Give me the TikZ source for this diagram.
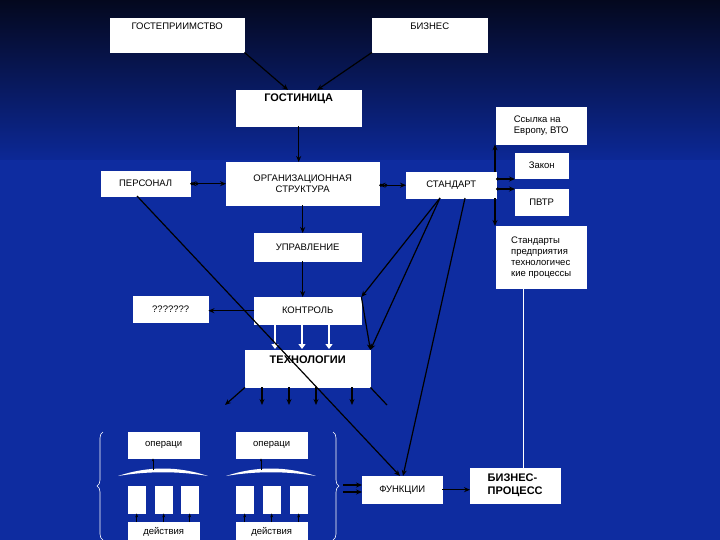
\documentclass[tikz,border=0pt]{standalone}
\usepackage{fontspec}
\setmainfont{Liberation Sans}
\usetikzlibrary{arrows.meta,decorations.pathreplacing}
\definecolor{bgtop}{RGB}{4,8,30}
\definecolor{bgmid}{RGB}{12,40,150}
\definecolor{bgbot}{RGB}{14,44,160}
\begin{document}
\begin{tikzpicture}[x=1pt,y=-1pt,
  box/.style={draw=white,fill=white,text=black,inner sep=1pt,font=\fontsize{9.5}{11}\selectfont,align=center,anchor=north west},
  bbox/.style={box,font=\fontsize{11}{13}\selectfont\bfseries},
  con/.style={black,line width=1.2pt,-{Stealth[length=6pt,width=5pt]}},
  dcon/.style={black,line width=1.2pt,{Circle[length=3pt]}-{Stealth[length=6pt,width=5pt]}},
  pl/.style={black,line width=1.2pt},
  warr/.style={white,line width=2.2pt,-{Triangle[length=5pt,width=7pt]}}]
\useasboundingbox (0,0) rectangle (720,540);
\shade[top color=bgtop,bottom color=bgmid] (0,0) rectangle (720,160);
\fill[bgbot] (0,160) rectangle (720,540);
% boxes
\node[box,minimum width=134,minimum height=34] (gost) at (110,18) {ГОСТЕПРИИМСТВО\\[8pt]};
\node[box,minimum width=115,minimum height=34] (biz) at (372,18) {БИЗНЕС\\[8pt]};
\node[bbox,minimum width=125,minimum height=36] (hotel) at (236,90) {ГОСТИНИЦА\\[8pt]};
\node[box,minimum width=90,minimum height=37,align=left] (ref) at (496,107) {Ссылка на\\Европу, ВТО};
\node[box,minimum width=89,minimum height=25] (pers) at (101,171) {ПЕРСОНАЛ};
\node[box,minimum width=153,minimum height=43] (org) at (226,162) {ОРГАНИЗАЦИОННАЯ\\СТРУКТУРА};
\node[box,minimum width=90,minimum height=26] (std) at (406,172) {СТАНДАРТ};
\node[box,minimum width=53,minimum height=25] (law) at (515,153) {Закон};
\node[box,minimum width=53,minimum height=26] (pvtr) at (515,189) {ПВТР};
\node[box,minimum width=107,minimum height=28] (upr) at (254,233) {УПРАВЛЕНИЕ};
\node[box,minimum width=90,minimum height=62,align=left] (stds) at (496,226) {Стандарты\\предприятия\\технологичес\\кие процессы};
\node[box,minimum width=75,minimum height=26] (q) at (133,296) {???????};
\node[box,minimum width=107,minimum height=27] (ctrl) at (254,297) {КОНТРОЛЬ};
\node[bbox,minimum width=125,minimum height=37] (tech) at (245,350) {ТЕХНОЛОГИИ\\[6pt]};
\node[box,minimum width=71,minimum height=26] (op1) at (128,432) {операци};
\node[box,minimum width=71,minimum height=26] (op2) at (236,432) {операци};
\node[box,minimum width=80,minimum height=27] (fun) at (362,476) {ФУНКЦИИ};
\node[bbox,minimum width=90,minimum height=35,align=left] (bp) at (470,468) {БИЗНЕС-\\ПРОЦЕСС};
\node[box,minimum width=71,minimum height=20] (act1) at (128,522) {действия};
\node[box,minimum width=71,minimum height=20] (act2) at (236,522) {действия};
\foreach \i/\x in {1/128,2/155,3/181,4/236,5/263,6/290}{
  \node[box,minimum width=17,minimum height=27] (s\i) at (\x,486) {};
}
% crescents
\foreach \a in {118,226}{
  \fill[white] (\a,476) .. controls (\a+30,466) and (\a+60,466) .. (\a+90,476)
     .. controls (\a+60,471) and (\a+30,471) .. (\a,476);
}
\coordinate (c1) at (153,470); \coordinate (c2) at (261,470);
\draw[con,line width=0.6pt,-{Stealth[length=3pt]}] (c1) -- (c1|-op1.south);
\draw[con,line width=0.6pt,-{Stealth[length=3pt]}] (c2) -- (c2|-op2.south);
\foreach \i/\a in {1/act1,2/act1,3/act1,4/act2,5/act2,6/act2}{
  \draw[con,line width=0.9pt,-{Stealth[length=4pt]}] (s\i.center|-\a.north) -- (s\i.south);
}
% braces
\draw[white,line width=0.6pt,decorate,decoration={brace,amplitude=6pt}] (103,540) -- (103,432);
\draw[white,line width=0.6pt,decorate,decoration={brace,amplitude=6pt}] (333,432) -- (333,540);
\coordinate (fa) at (343,485); \coordinate (fb) at (343,492);
\draw[con] (fa) -- (fa-|fun.west);
\draw[con] (fb) -- (fb-|fun.west);
% connectors top
\draw[con] (gost.south east) -- (288,90);
\draw[con] (biz.south west) -- (317,90);
\draw[con] (hotel.south) -- (hotel.south|-org.north);
\draw[dcon,{Circle[length=3pt]}-{Stealth[length=6pt,width=5pt]}] (pers.east) -- (pers.east-|org.west);
\draw[dcon] (org.east|-std.west) -- (std.west);
\draw[dcon] (org.east|-std.west) ++(8,0) -- (org.east|-std.west);
\draw[dcon] (pers.east) ++(8,0) -- (pers.east);
\draw[con] (org.south) -- (org.south|-upr.north);
\draw[con] (upr.south-|org.south) -- (ctrl.north-|org.south);
\draw[con] (ctrl.west) -- (q.east|-ctrl.west);
% standard right bus
\coordinate (bus) at (495,0);
\draw[con] (bus|-std.north) -- (bus|-ref.south);
\draw[con] (bus|-std.south) -- (bus|-stds.north);
\coordinate (l1) at (496,179); \coordinate (l2) at (496,189);
\draw[dcon] (l1) -- (l1-|law.west);
\draw[dcon] (l2) -- (l2-|pvtr.west);
% white arrows
\foreach \x in {275,302,329}{
  \draw[warr] (\x,324) -- (\x,349);
}
% diagonals
\coordinate (sd1) at (440,198); \coordinate (sd2) at (465,198);
\draw[con] (sd1) -- (ctrl.north east);
\draw[con] (sd1) -- (tech.north east);
\draw[con] (ctrl.north east) -- (tech.north east);
\draw[con] (sd2) -- (403,476);
\draw[con] (137,196) -- (400,476);
% bottom of tech
\draw[con] (tech.south west) -- (225,405);
\foreach \x in {262,289,316,352}{ \draw[con] (\x,387) -- (\x,405); }
\draw[pl] (tech.south east) -- (387,405);
% standards line
\draw[white,line width=0.5pt] (523,288) -- (523,468);
\draw[con] (fun.east) -- (fun.east-|bp.west);
\end{tikzpicture}
\end{document}
